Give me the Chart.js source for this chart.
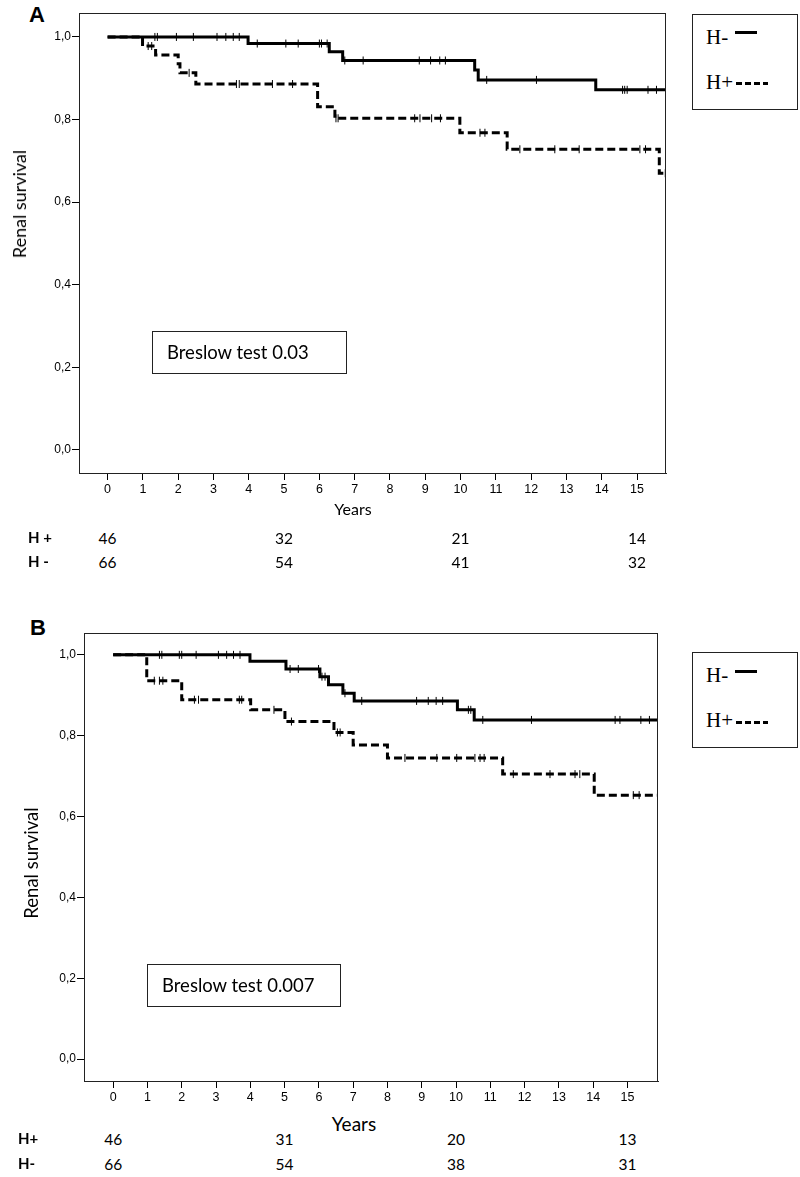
<!DOCTYPE html>
<html>
<head>
<meta charset="utf-8">
<script src="https://cdn.jsdelivr.net/npm/chart.js@4.4.1/dist/chart.umd.min.js"></script>
<style>
  body { margin: 0; background: #fff; width: 800px; height: 1177px; position: relative; overflow: hidden; font-family: Lato, "Open Sans", sans-serif; color: #000; }
  .abs { position: absolute; white-space: nowrap; }
  .c { transform: translate(-50%, -50%); }
  canvas { position: absolute; left: 0; }
  .panel { font: bold 22px "Liberation Sans", Arial, sans-serif; }
  .ytitle { transform: translate(-50%, -50%) rotate(-90deg); font-size: 18px; }
  .box { border: 1px solid #222; box-sizing: border-box; }
  .breslow { font-size: 18.5px; line-height: 40px; padding-left: 14px; }
  .legend { font-family: "Liberation Serif", "Times New Roman", serif; font-size: 21px; }
  .risk { font-size: 15.5px; }
  .risklab { font-size: 15px; font-weight: bold; }
  .dash { height: 3px; background: repeating-linear-gradient(90deg, #000 0 6px, transparent 6px 9px); }
</style>
</head>
<body>

<div class="abs panel" style="left:29px;top:2px">A</div>
<div class="abs panel" style="left:30px;top:615px">B</div>

<canvas id="chartA" width="680" height="500" style="top:0"></canvas>
<canvas id="chartB" width="680" height="490" style="top:620px"></canvas>

<div class="abs ytitle" style="left:19px;top:204px">Renal survival</div>
<div class="abs ytitle" style="left:31px;top:863px;font-size:18.5px">Renal survival</div>

<div class="abs c" style="left:353px;top:508px;font-size:16px">Years</div>
<div class="abs c" style="left:354px;top:1123px;font-size:19px">Years</div>

<div class="abs box breslow" style="left:152px;top:331px;width:195px;height:43px">Breslow test 0.03</div>
<div class="abs box breslow" style="left:147px;top:964px;width:194px;height:43px">Breslow test 0.007</div>

<div class="abs box legend" style="left:692px;top:14px;width:106px;height:96px">
  <div class="abs" style="left:13px;top:10px">H-</div>
  <div class="abs" style="left:42px;top:16px;width:22px;height:3px;background:#000"></div>
  <div class="abs" style="left:13px;top:55px">H+</div>
  <div class="abs dash" style="left:43px;top:67px;width:32px"></div>
</div>
<div class="abs box legend" style="left:692px;top:652px;width:106px;height:96px">
  <div class="abs" style="left:13px;top:10px">H-</div>
  <div class="abs" style="left:42px;top:17px;width:22px;height:3px;background:#000"></div>
  <div class="abs" style="left:13px;top:55px">H+</div>
  <div class="abs dash" style="left:43px;top:68px;width:32px"></div>
</div>

<div id="riskA"></div>
<div id="riskB"></div>

<script>
// x axis ticks and y axis ticks
const yearTicks = [0, 1, 2, 3, 4, 5, 6, 7, 8, 9, 10, 11, 12, 13, 14, 15];
const survTicks = [0, 0.2, 0.4, 0.6, 0.8, 1.0];

// panel A, H- (solid)
const aNegTimes = [0, 3.98, 6.28, 6.66, 10.4, 10.5, 13.83, 15.82];
const aNegSurv = [1.0, 0.984, 0.964, 0.943, 0.92, 0.896, 0.872, 0.872];
const aNegCensored = [1.34, 1.41, 1.95, 2.43, 3.1, 3.35, 3.56, 3.73, 4.24, 5.05, 5.4, 6.0, 6.06, 6.22, 6.72, 7.24, 8.83, 9.15, 9.41, 9.57, 10.74, 12.15, 14.59, 14.65, 14.72, 15.31, 15.55];

// panel A, H+ (dashed)
const aPosTimes = [0, 0.99, 1.36, 2.0, 2.05, 2.5, 5.95, 6.44, 9.98, 11.32, 15.63, 15.82];
const aPosSurv = [1.0, 0.978, 0.956, 0.935, 0.913, 0.886, 0.831, 0.803, 0.768, 0.728, 0.67, 0.67];
const aPosCensored = [1.15, 1.25, 2.31, 3.65, 3.73, 4.67, 5.24, 6.47, 6.53, 8.7, 8.85, 9.18, 9.43, 10.55, 10.69, 11.68, 12.67, 13.36, 15.08, 15.24, 15.8];

// panel B, H- (solid)
const bNegTimes = [0, 3.99, 5.04, 6.03, 6.28, 6.7, 7.03, 10.04, 10.53, 15.89];
const bNegSurv = [1.0, 0.984, 0.965, 0.946, 0.926, 0.905, 0.886, 0.864, 0.839, 0.839];
const bNegCensored = [1.35, 1.42, 1.93, 2.0, 2.42, 3.07, 3.31, 3.51, 3.7, 5.16, 5.4, 5.99, 6.09, 6.18, 6.76, 7.25, 8.85, 9.19, 9.42, 9.61, 10.36, 10.43, 10.78, 12.2, 14.64, 14.78, 15.39, 15.64];

// panel B, H+ (dashed)
const bPosTimes = [0, 0.98, 2.0, 4.01, 5.01, 6.44, 7.0, 8.0, 11.36, 14.03, 15.89];
const bPosSurv = [1.0, 0.936, 0.889, 0.864, 0.835, 0.808, 0.777, 0.745, 0.705, 0.653, 0.653];
const bPosCensored = [1.2, 1.35, 1.45, 2.37, 2.49, 3.68, 3.75, 4.69, 5.2, 6.54, 6.62, 8.51, 9.44, 10.02, 10.55, 10.7, 10.82, 11.67, 12.74, 13.47, 13.61, 15.17, 15.34];

// numbers at risk
const riskYears = [0, 5, 10, 15];
const aRiskPos = [46, 32, 21, 14];
const aRiskNeg = [66, 54, 41, 32];
const bRiskPos = [46, 31, 20, 13];
const bRiskNeg = [66, 54, 38, 31];

function stepPoints(times, surv) {
  return times.map((t, i) => ({ x: t, y: surv[i] }));
}

// survival level of the curve at a censoring time
function censorPoints(cens, times, surv) {
  return cens.map(t => {
    let v = surv[0];
    for (let i = 0; i < times.length; i++) if (times[i] <= t) v = surv[i];
    return { x: t, y: v };
  });
}

const boxPlugin = {
  id: "box",
  afterDraw(chart) {
    const a = chart.chartArea, c = chart.ctx;
    c.save();
    c.strokeStyle = "#222";
    c.lineWidth = 1;
    c.strokeRect(Math.round(a.left) + 0.5, Math.round(a.top) + 0.5, Math.round(a.right - a.left) - 1, Math.round(a.bottom - a.top));
    c.restore();
  },
};

function makeChart(id, g, neg, pos) {
  const curve = (d, dash) => ({
    type: "line",
    data: d,
    stepped: true,
    borderColor: "#000",
    borderWidth: 3,
    borderDash: dash,
    borderCapStyle: "butt",
    pointRadius: 0,
    fill: false,
  });
  const ticks = (d) => ({
    type: "line",
    data: d,
    showLine: false,
    pointStyle: "line",
    rotation: 90,
    pointRadius: 4,
    pointBorderWidth: 1,
    pointBorderColor: "#000",
  });

  return new Chart(document.getElementById(id), {
    type: "line",
    data: {
      datasets: [
        curve(stepPoints(neg.t, neg.s), []),
        curve(stepPoints(pos.t, pos.s), [8, 4]),
        ticks(censorPoints(neg.c, neg.t, neg.s)),
        ticks(censorPoints(pos.c, pos.t, pos.s)),
      ],
    },
    options: {
      responsive: false,
      animation: false,
      layout: { padding: { top: 13, right: g.right, left: 0, bottom: 0 } },
      plugins: { legend: { display: false }, tooltip: { enabled: false } },
      scales: {
        x: {
          type: "linear",
          min: g.xmin,
          max: g.xmax,
          afterBuildTicks: (s) => { s.ticks = yearTicks.map(v => ({ value: v })); },
          afterFit: (s) => { s.height = g.xh; },
          grid: { drawOnChartArea: false, drawTicks: true, tickLength: 7, color: "#000" },
          border: { display: true, color: "#222", width: 1 },
          ticks: { color: "#000", padding: 2, maxRotation: 0, autoSkip: false, font: { family: "'Liberation Sans Narrow', 'Liberation Sans', Arial", size: 12.5 } },
        },
        y: {
          min: g.ymin,
          max: g.ymax,
          afterBuildTicks: (s) => { s.ticks = survTicks.map(v => ({ value: v })); },
          afterFit: (s) => { s.width = g.yw; },
          grid: { drawOnChartArea: false, drawTicks: true, tickLength: 7, color: "#000" },
          border: { display: true, color: "#222", width: 1 },
          ticks: {
            color: "#000",
            padding: 1,
            font: { family: "'Liberation Sans', Arial", size: 12 },
            callback: (v) => v.toFixed(1).replace(".", ","),
          },
        },
      },
    },
    plugins: [boxPlugin],
  });
}

const chartA = makeChart("chartA",
  { right: 14, xh: 27, yw: 79, xmin: -0.81, xmax: 15.82, ymin: -0.056, ymax: 1.058 },
  { t: aNegTimes, s: aNegSurv, c: aNegCensored },
  { t: aPosTimes, s: aPosSurv, c: aPosCensored });

const chartB = makeChart("chartB",
  { right: 22, xh: 29, yw: 84, xmin: -0.85, xmax: 15.89, ymin: -0.054, ymax: 1.054 },
  { t: bNegTimes, s: bNegSurv, c: bNegCensored },
  { t: bPosTimes, s: bPosSurv, c: bPosCensored });

// number-at-risk table, placed under the year positions of each chart
function riskTable(holder, chart, top, labels, rows, labelX) {
  const el = document.getElementById(holder);
  rows.forEach((vals, r) => {
    const y = top[r];
    const lab = document.createElement("div");
    lab.className = "abs risklab";
    lab.style.left = labelX + "px";
    lab.style.top = (y - 10) + "px";
    lab.textContent = labels[r];
    el.appendChild(lab);
    vals.forEach((v, i) => {
      const d = document.createElement("div");
      d.className = "abs c risk";
      d.style.left = chart.scales.x.getPixelForValue(riskYears[i]) + "px";
      d.style.top = y + "px";
      d.textContent = v;
      el.appendChild(d);
    });
  });
}

riskTable("riskA", chartA, [538, 562], ["H +", "H -"], [aRiskPos, aRiskNeg], 28);
riskTable("riskB", chartB, [1139, 1164], ["H+", "H-"], [bRiskPos, bRiskNeg], 18);
</script>
</body>
</html>
